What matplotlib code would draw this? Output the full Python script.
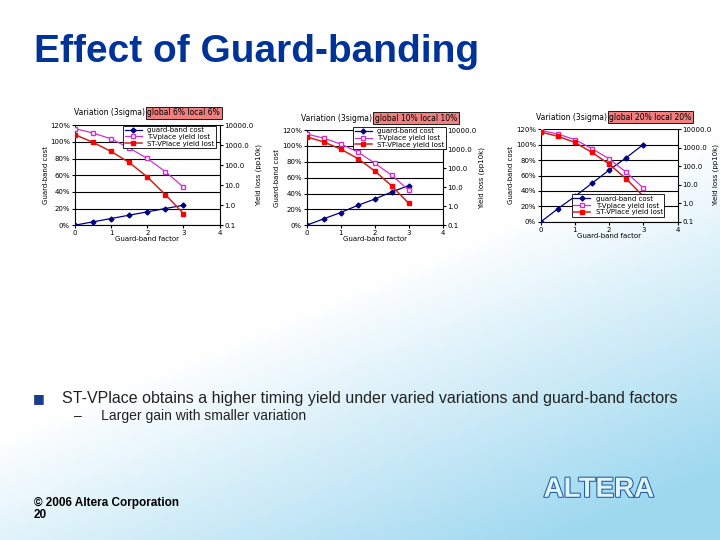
import matplotlib
matplotlib.use("Agg")
import matplotlib.pyplot as plt
import matplotlib.patheffects as pe
import numpy as np
from matplotlib.ticker import FuncFormatter, FixedLocator

x = [0, 0.5, 1, 1.5, 2, 2.5, 3]
titles = ["global 6% local 6%", "global 10% local 10%", "global 20% local 20%"]
cost = [[0, 0.04, 0.08, 0.12, 0.16, 0.20, 0.24],
        [0, 0.08, 0.16, 0.25, 0.33, 0.42, 0.50],
        [0, 0.17, 0.33, 0.50, 0.67, 0.83, 1.00]]
t_loss = [[6800, 4100, 2100, 730, 220, 48, 8],
          [6200, 3800, 1840, 720, 182, 42, 7],
          [8500, 5400, 2700, 880, 250, 47, 6.7]]
st_loss = [[3400, 1400, 490, 138, 26, 3.4, 0.38],
           [4400, 2400, 1000, 320, 71, 11.5, 1.4],
           [6900, 4100, 1900, 550, 130, 21, 2.4]]
labels = ["guard-band cost", "T-Vplace yield lost", "ST-VPlace yield lost"]

fig = plt.figure(figsize=(7.2, 5.4), dpi=100)
# background gradient (white top, light blue towards bottom right)
bg = fig.add_axes([0, 0, 1, 1], zorder=-10)
X, Y = np.meshgrid(np.linspace(0, 1, 200), np.linspace(0, 1, 200))  # Y=0 bottom
g = np.clip((0.5 - Y) * 1.6 + (X - 0.55) * 0.9, 0, 1)
c = np.array([0.62, 0.85, 0.94])
img = np.ones((200, 200, 3)) * (1 - g[..., None]) + c * g[..., None]
bg.imshow(img, extent=[0, 1, 0, 1], origin="lower", aspect="auto")
bg.set_xlim(0, 1)
bg.set_ylim(0, 1)
bg.axis("off")

fig.text(0.047, 0.885, "Effect of Guard-banding", fontsize=28, fontweight="bold",
         color="#003399", family="Liberation Sans")

pos = [[0.104, 0.583, 0.201, 0.185], [0.426, 0.583, 0.189, 0.176], [0.751, 0.589, 0.190, 0.172]]
legloc = [(1.0, 1.03), (1.05, 1.07), (0.93, 0.02)]
legal = ["upper right", "upper right", "lower right"]
fs = 5
for i in range(3):
    ax = fig.add_axes(pos[i])
    ax.set_xlim(0, 4)
    ax.set_ylim(0, 1.2)
    ax.set_yticks(np.arange(0, 1.21, 0.2))
    ax.yaxis.set_major_formatter(FuncFormatter(lambda v, p: f"{v*100:.0f}%"))
    ax.set_xticks([0, 1, 2, 3, 4])
    ax.grid(axis="y", color="black", lw=0.8)
    for s in ["top", "right"]:
        ax.spines[s].set_visible(False)
    ax.tick_params(labelsize=fs, length=2, pad=1.5)
    ax.set_xlabel("Guard-band factor", fontsize=fs, labelpad=0)
    ax.set_ylabel("Guard-band cost", fontsize=fs, labelpad=1)
    l1, = ax.plot(x, cost[i], color="#000080", marker="D", ms=2.5, lw=0.9, zorder=5)
    ax2 = ax.twinx()
    ax2.set_yscale("log")
    ax2.set_ylim(0.1, 10000)
    ax2.yaxis.set_major_locator(FixedLocator([0.1, 1, 10, 100, 1000, 10000]))
    ax2.yaxis.set_minor_locator(FixedLocator([]))
    ax2.yaxis.set_major_formatter(FuncFormatter(lambda v, p: f"{v:.1f}"))
    ax2.tick_params(labelsize=fs, length=2, pad=1.5)
    ax2.set_ylabel("Yield loss (pp10k)", fontsize=fs, labelpad=1)
    for s in ["top", "left", "bottom"]:
        ax2.spines[s].set_visible(False)
    ax2.spines["right"].set_position(("data", 4))
    l2, = ax2.plot(x, t_loss[i], color="#CC33CC", marker="s", ms=3.5, mfc="white", lw=0.9)
    l3, = ax2.plot(x, st_loss[i], color="#CC2222", marker="s", ms=3.5, mfc="red", mec="red", lw=1.1)
    leg = ax2.legend([l1, l2, l3], labels, fontsize=5, loc=legal[i], bbox_to_anchor=legloc[i],
                     frameon=True, fancybox=False, edgecolor="black", framealpha=1,
                     handlelength=2.5, borderpad=0.2, labelspacing=0.1)
    leg.get_frame().set_linewidth(0.6)
    ax.text(0.5, 1.08, "Variation (3sigma) ", transform=ax.transAxes, fontsize=5.5,
            ha="right", va="bottom")
    ax.text(0.5, 1.08, titles[i], transform=ax.transAxes, fontsize=5.5, ha="left", va="bottom",
            bbox=dict(boxstyle="square,pad=0.2", fc="#F08080", ec="black", lw=0.6))

fig.text(0.046, 0.262, "\u25a0", fontsize=9, color="#1a3c8c", va="center")
fig.text(0.086, 0.262, "ST-VPlace obtains a higher timing yield under varied variations and guard-band factors",
         fontsize=11.5, color="#222222", va="center", family="Liberation Sans")
fig.text(0.103, 0.230, "\u2013     Larger gain with smaller variation", fontsize=10, color="#222222",
         va="center", family="Liberation Sans")
fig.text(0.047, 0.058, "\u00a9 2006 Altera Corporation\n20", fontsize=8.5, fontweight="bold",
         color="black", va="center", family="Liberation Sans", linespacing=1.0)
fig.text(0.755, 0.08, "ALTERA", fontsize=20, fontweight="bold", color="#dff4fb",
         family="Liberation Sans",
         path_effects=[pe.withStroke(linewidth=1.5, foreground="#1f5aa6")])
fig.savefig("out.png", dpi=100)
